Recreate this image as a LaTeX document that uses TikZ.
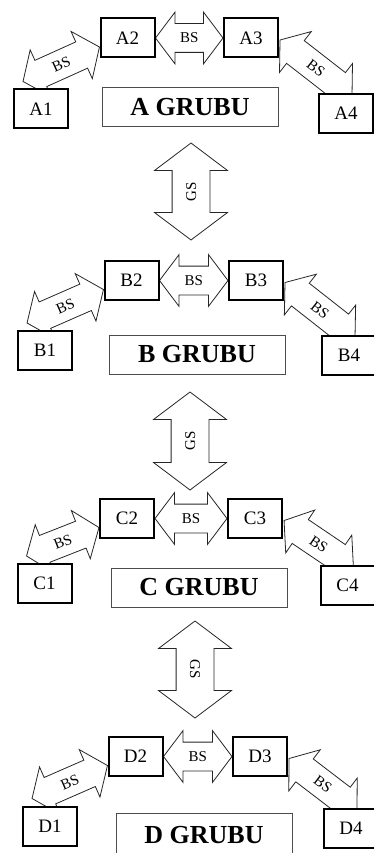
\documentclass[tikz,border=0pt]{standalone}
\usepackage{fontspec}
\setmainfont{Liberation Serif}
\usetikzlibrary{shapes.arrows,calc}
\pgfdeclarelayer{bg}
\pgfsetlayers{bg,main}
\tikzset{
 mbox/.style={draw=black, line width=2pt, fill=white, minimum width=54pt, minimum height=39pt, inner sep=0pt, font=\fontsize{19}{19}\selectfont},
 gbox/.style={draw=black!70, line width=1pt, fill=white, minimum width=176pt, minimum height=39pt, inner sep=0pt, font=\fontsize{26}{26}\selectfont\bfseries},
 bsarrow/.style={double arrow, draw=black!85, line width=0.8pt, fill=white, double arrow head extend=11.5pt, double arrow tip angle=106, text height=10pt, text depth=0pt, inner ysep=9pt, inner xsep=1pt, font=\fontsize{15}{15}\selectfont},
 gsarrow/.style={bsarrow, double arrow head extend=17.5pt, inner ysep=13.5pt},
}
\newcommand\myconn[5]{% style, name, start, end, text
 \path let \p1=(#3), \p2=(#4), \n1={veclen(\x2-\x1,\y2-\y1)} in (\p1) -- node[#1, sloped, minimum height=\n1] (#2) {#5} (\p2);}
\newcommand\mygroup[1]{%
 \myconn{bsarrow}{#1h}{#12.east}{#13.west}{BS}
 \myconn{bsarrow}{#1l}{$(#11.north)+(-18,-7)$}{$(#12.west)+(0,9)$}{BS}
 \myconn{bsarrow}{#1r}{$(#13.east)+(1,2)$}{$(#14.north)+(6,3)$}{BS}}
\begin{document}
\begin{tikzpicture}[x=1pt,y=-1pt]
\useasboundingbox (0,0) rectangle (374,853);
% group A
\node[mbox] (A1) at (41,109) {A1};
\node[mbox] (A2) at (127.5,38) {A2};
\node[mbox] (A3) at (251,38) {A3};
\node[mbox] (A4) at (346,113.5) {A4};
\node[gbox] (AG) at (190,107.5) {A GRUBU};
% group B
\node[mbox] (B1) at (45,350.5) {B1};
\node[mbox] (B2) at (131.5,280.5) {B2};
\node[mbox] (B3) at (256,280.5) {B3};
\node[mbox] (B4) at (349,355) {B4};
\node[gbox] (BG) at (197,354.5) {B GRUBU};
% group C
\node[mbox] (C1) at (44.5,583.5) {C1};
\node[mbox] (C2) at (127,518.5) {C2};
\node[mbox] (C3) at (255,518.5) {C3};
\node[mbox] (C4) at (347.5,585) {C4};
\node[gbox] (CG) at (199,587.5) {C GRUBU};
% group D
\node[mbox] (D1) at (50,826) {D1};
\node[mbox] (D2) at (135.5,756.5) {D2};
\node[mbox] (D3) at (260,756.5) {D3};
\node[mbox] (D4) at (351,828) {D4};
\node[gbox, minimum height=44pt] (DG) at (204,835) {D GRUBU};
% GS arrow ends
\coordinate (gsA1) at (191,143);
\coordinate (gsA2) at (191,240);
\coordinate (gsB1) at (190,392);
\coordinate (gsB2) at (190,490);
\coordinate (gsC1) at (195,621);
\coordinate (gsC2) at (195,718);
\begin{pgfonlayer}{bg}
\mygroup{A}
\mygroup{B}
\mygroup{C}
\mygroup{D}
\myconn{gsarrow}{gsA}{gsA2}{gsA1}{GS}
\myconn{gsarrow}{gsB}{gsB2}{gsB1}{GS}
\myconn{gsarrow}{gsC}{gsC1}{gsC2}{GS}
\end{pgfonlayer}
\end{tikzpicture}
\end{document}
